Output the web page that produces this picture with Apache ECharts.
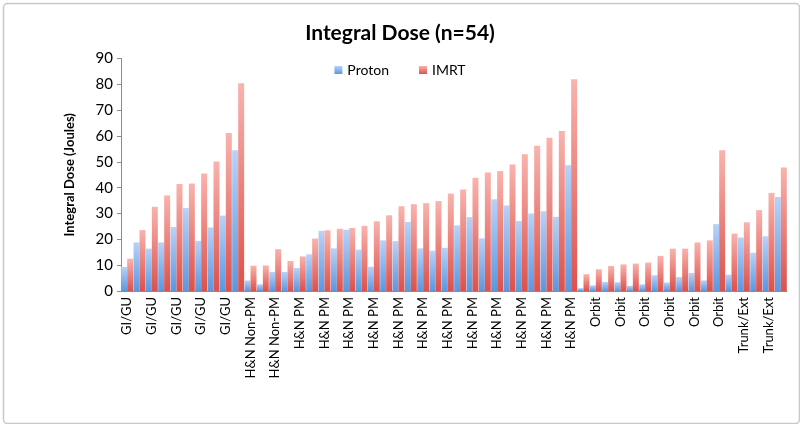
<!DOCTYPE html>
<html><head><meta charset="utf-8">
<script src="https://cdn.jsdelivr.net/npm/echarts@6/dist/echarts.min.js"></script>
<style>html,body{margin:0;padding:0;background:#fff}#c{width:800px;height:424px}</style>
</head><body><div id="c"></div>
<script>
const groups = [
  ['GI/GU', 10], ['H&N Non-PM', 4], ['H&N PM', 23], ['Orbit', 12], ['Trunk/Ext', 5]
];
const categories = [];
groups.forEach(g => { for (let i = 0; i < g[1]; i++) categories.push(g[0]); });

const proton = [9.3,18.8,16.4,18.8,24.8,32.1,19.4,24.6,29.2,54.5,
  4.1,2.6,7.4,7.4,8.9,14.2,23.3,16.5,23.7,16.0,
  9.4,19.6,19.3,26.7,16.5,15.6,16.7,25.4,28.6,20.4,
  35.5,33.1,27.1,30.0,30.9,28.7,48.7,
  1.1,2.2,3.5,3.4,2.0,2.6,6.1,3.3,5.4,7.0,4.1,25.9,
  6.3,20.7,14.8,21.2,36.4];
const imrt = [12.5,23.6,32.6,37.0,41.4,41.6,45.5,50.1,61.2,80.4,
  9.8,9.9,16.2,11.6,13.4,20.3,23.5,24.1,24.4,25.2,
  27.0,29.3,32.8,33.6,34.0,34.8,37.7,39.3,43.8,45.9,
  46.4,49.0,52.9,56.2,59.3,61.9,82.0,
  6.5,8.4,9.7,10.3,10.6,11.0,13.6,16.4,16.4,18.8,19.6,54.5,
  22.2,26.6,31.3,38.0,47.8];
const yTicks = {min: 0, max: 90, interval: 10};

const FONT = 'Lato, "Open Sans", sans-serif';
const grad = (top, bottom) => new echarts.graphic.LinearGradient(0, 0, 0, 1, [
  {offset: 0, color: top}, {offset: 1, color: bottom}]);

const chart = echarts.init(document.getElementById('c'), null, {renderer: 'canvas'});
chart.setOption({
  animation: false,
  backgroundColor: '#fff',
  textStyle: {fontFamily: FONT},
  graphic: [{
    type: 'rect', left: 1, top: 1, silent: true,
    shape: {width: 796, height: 420, r: 4},
    style: {fill: 'none', stroke: '#c8c8c8', lineWidth: 1.5}
  }],
  title: {
    text: 'Integral Dose (n=54)', left: 'center', top: 18,
    textStyle: {fontFamily: FONT, fontSize: 21, fontWeight: 'bold', color: '#000'}
  },
  legend: {
    top: 58, left: 'center', itemGap: 30, itemWidth: 8, itemHeight: 8,
    icon: 'rect',
    textStyle: {fontFamily: FONT, fontSize: 14, color: '#000'},
    data: ['Proton', 'IMRT']
  },
  grid: {left: 121, right: 13, top: 58.5, bottom: 133, containLabel: false},
  xAxis: {
    type: 'category', data: categories,
    axisLine: {lineStyle: {color: '#8c8c8c'}},
    axisTick: {show: false},
    axisLabel: {
      interval: 1, rotate: 90, fontFamily: FONT, fontSize: 13, color: '#000', margin: 6
    }
  },
  yAxis: {
    type: 'value', min: yTicks.min, max: yTicks.max, interval: yTicks.interval,
    name: 'Integral Dose (Joules)', nameLocation: 'middle', nameGap: 45,
    nameTextStyle: {fontFamily: FONT, fontSize: 13, fontWeight: 'bold', color: '#000'},
    axisLine: {show: true, lineStyle: {color: '#8c8c8c'}},
    axisTick: {show: true, length: 4, lineStyle: {color: '#8c8c8c'}},
    splitLine: {show: false},
    axisLabel: {fontFamily: FONT, fontSize: 15, color: '#000', margin: 8}
  },
  series: [
    {name: 'Proton', type: 'bar', data: proton, barGap: '0%', barCategoryGap: '3%',
     itemStyle: {color: grad('#b9d2f7', '#5b97df')}},
    {name: 'IMRT', type: 'bar', data: imrt, barGap: '0%', barCategoryGap: '3%',
     itemStyle: {color: grad('#f9b3ad', '#dc514c')}}
  ]
});
</script></body></html>
